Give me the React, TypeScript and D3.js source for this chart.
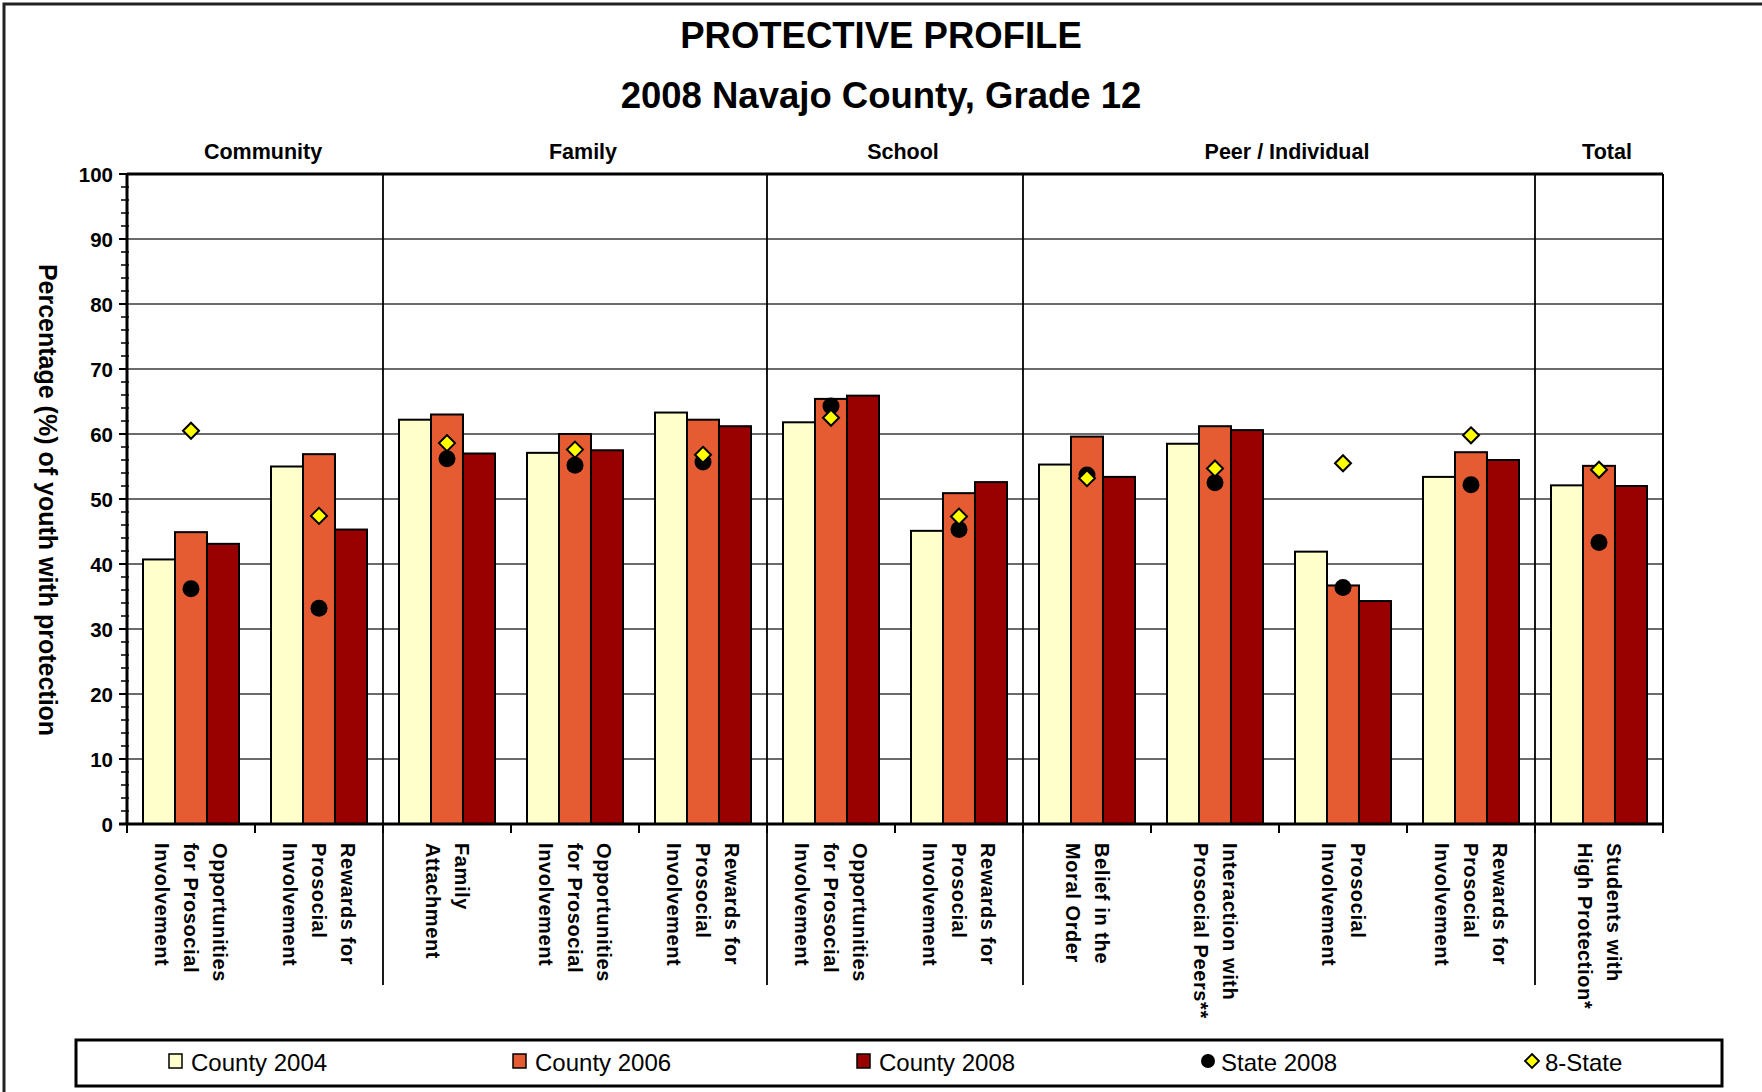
import React from "react";
import * as d3 from "d3";

const categoryLines: string[][] = [
  ["Opportunities", "for Prosocial", "Involvement"],
  ["Rewards for", "Prosocial", "Involvement"],
  ["Family", "Attachment"],
  ["Opportunities", "for Prosocial", "Involvement"],
  ["Rewards for", "Prosocial", "Involvement"],
  ["Opportunities", "for Prosocial", "Involvement"],
  ["Rewards for", "Prosocial", "Involvement"],
  ["Belief in the", "Moral Order"],
  ["Interaction with", "Prosocial Peers**"],
  ["Prosocial", "Involvement"],
  ["Rewards for", "Prosocial", "Involvement"],
  ["Students with", "High Protection*"],
];

const groupNames = ["Community", "Family", "School", "Peer / Individual", "Total"];
const groupSizes = [2, 3, 2, 4, 1];

const county2004 = [40.7, 55.0, 62.2, 57.1, 63.3, 61.8, 45.1, 55.3, 58.5, 41.9, 53.4, 52.1];
const county2006 = [44.9, 56.9, 63.0, 60.0, 62.2, 65.4, 50.9, 59.6, 61.2, 36.7, 57.2, 55.1];
const county2008 = [43.1, 45.3, 57.0, 57.5, 61.2, 65.9, 52.6, 53.4, 60.6, 34.3, 56.0, 52.0];
const state2008 = [36.2, 33.2, 56.2, 55.2, 55.7, 64.3, 45.3, 53.7, 52.5, 36.4, 52.2, 43.3];
const eightState = [60.5, 47.4, 58.6, 57.6, 56.8, 62.5, 47.3, 53.2, 54.7, 55.5, 59.8, 54.5];

const barSeries = ["County 2004", "County 2006", "County 2008"];
const barColors = ["#FFFFCC", "#E55B32", "#990000"];
const yTicks = [0, 10, 20, 30, 40, 50, 60, 70, 80, 90, 100];

const W = 1762;
const H = 1092;
const plotL = 127;
const plotR = 1663;
const plotT = 174;
const plotB = 824;
const FONT = "'Liberation Sans', Arial, Helvetica, sans-serif";

export default function App() {
  const idx = categoryLines.map((_, i) => i);
  const x0 = d3.scaleBand<number>().domain(idx).range([plotL, plotR]).paddingInner(0).paddingOuter(0);
  const x1 = d3
    .scaleBand<number>()
    .domain([0, 1, 2])
    .range([0, x0.bandwidth()])
    .paddingInner(0)
    .paddingOuter(0.5);
  const y = d3.scaleLinear().domain([0, 100]).range([plotB, plotT]);
  const barData = [county2004, county2006, county2008];
  const minorTicks = d3.range(0, 101, 2).filter((v) => v % 10 !== 0);

  const cum: number[] = [];
  let acc = 0;
  groupSizes.forEach((s) => {
    cum.push(acc);
    acc += s;
  });
  const step = x0.step();
  const cx = (i: number) => (x0(i) as number) + x0.bandwidth() / 2;
  const diamond = (r: number) => `M0,${-r}L${r},0L0,${r}L${-r},0Z`;

  const legendItems = [
    { label: barSeries[0], type: "sq", color: barColors[0], x: 169 },
    { label: barSeries[1], type: "sq", color: barColors[1], x: 513 },
    { label: barSeries[2], type: "sq", color: barColors[2], x: 857 },
    { label: "State 2008", type: "circle", color: "#000", x: 1201 },
    { label: "8-State", type: "diamond", color: "#FFFF00", x: 1525 },
  ];

  return (
    <svg
      width={W}
      height={H}
      style={{ position: "absolute", left: 0, top: 0, background: "#fff" }}
      fontFamily={FONT}
    >
      <rect x={0} y={0} width={W} height={H} fill="#fff" />
      <rect x={4} y={4} width={W + 50} height={H + 50} fill="none" stroke="#222" strokeWidth={3} />

      <text x={W / 2} y={48} textAnchor="middle" fontSize={36.5} fontWeight="bold">
        PROTECTIVE PROFILE
      </text>
      <text x={W / 2} y={108} textAnchor="middle" fontSize={36.5} fontWeight="bold">
        2008 Navajo County, Grade 12
      </text>

      {groupNames.map((g, gi) => {
        const start = plotL + cum[gi] * step;
        const end = start + groupSizes[gi] * step;
        return (
          <text key={g} x={(start + end) / 2 + 8} y={159} textAnchor="middle" fontSize={21.5} fontWeight="bold">
            {g}
          </text>
        );
      })}

      {yTicks
        .filter((t) => t > 0 && t < 100)
        .map((t) => (
          <line key={t} x1={plotL} x2={plotR} y1={y(t)} y2={y(t)} stroke="#3a3a3a" strokeWidth={1.3} />
        ))}

      {cum.slice(1).map((c) => {
        const xx = plotL + c * step;
        return <line key={c} x1={xx} x2={xx} y1={plotT} y2={985} stroke="#000" strokeWidth={1.8} />;
      })}

      {barData.map((series, si) =>
        series.map((v, i) => (
          <rect
            key={`${si}-${i}`}
            x={(x0(i) as number) + (x1(si) as number)}
            y={y(v)}
            width={x1.bandwidth()}
            height={plotB - y(v)}
            fill={barColors[si]}
            stroke="#000"
            strokeWidth={2}
          />
        ))
      )}

      {state2008.map((v, i) => (
        <circle key={`s${i}`} cx={cx(i)} cy={y(v)} r={8.5} fill="#000" />
      ))}
      {eightState.map((v, i) => (
        <path
          key={`d${i}`}
          d={diamond(8)}
          transform={`translate(${cx(i)},${y(v)})`}
          fill="#FFFF00"
          stroke="#000"
          strokeWidth={2}
        />
      ))}

      <line x1={plotL} x2={plotR} y1={plotT} y2={plotT} stroke="#000" strokeWidth={3} />
      <line x1={plotR} x2={plotR} y1={plotT} y2={plotB} stroke="#000" strokeWidth={2} />
      <line x1={plotL} x2={plotL} y1={plotT} y2={plotB} stroke="#000" strokeWidth={3} />
      <line x1={plotL - 8} x2={plotR} y1={plotB} y2={plotB} stroke="#000" strokeWidth={3} />

      {yTicks.map((t) => (
        <g key={`yt${t}`}>
          <line x1={plotL - 8} x2={plotL} y1={y(t)} y2={y(t)} stroke="#000" strokeWidth={2} />
          <text
            x={plotL - 14}
            y={y(t)}
            textAnchor="end"
            dominantBaseline="central"
            fontSize={20.5}
            fontWeight="bold"
          >
            {t}
          </text>
        </g>
      ))}
      {minorTicks.map((t) => (
        <line key={`mt${t}`} x1={plotL - 6} x2={plotL + 2} y1={y(t)} y2={y(t)} stroke="#000" strokeWidth={1.5} />
      ))}

      {d3.range(0, categoryLines.length + 1).map((k) => {
        const xx = plotL + k * step;
        return <line key={`xt${k}`} x1={xx} x2={xx} y1={plotB} y2={plotB + 9} stroke="#000" strokeWidth={2} />;
      })}

      {categoryLines.map((lines, i) => {
        const lh = 29;
        const n = lines.length;
        return (
          <text
            key={`xl${i}`}
            transform={`translate(${cx(i)},843) rotate(90)`}
            fontSize={20}
            fontWeight="bold"
            letterSpacing={0.6}
            dominantBaseline="central"
          >
            {lines.map((ln, li) => (
              <tspan key={li} x={0} y={(li - (n - 1) / 2) * lh}>
                {ln}
              </tspan>
            ))}
          </text>
        );
      })}

      <text
        transform={`translate(48,500) rotate(90)`}
        textAnchor="middle"
        dominantBaseline="central"
        fontSize={25}
        fontWeight="bold"
      >
        Percentage (%) of youth with protection
      </text>

      <rect x={76} y={1040} width={1646} height={46} fill="#fff" stroke="#000" strokeWidth={3} />
      {legendItems.map((it) => (
        <g key={it.label}>
          {it.type === "sq" && (
            <rect x={it.x} y={1054} width={13} height={14} fill={it.color} stroke="#000" strokeWidth={1.5} />
          )}
          {it.type === "circle" && <circle cx={it.x + 7} cy={1061} r={7} fill="#000" />}
          {it.type === "diamond" && (
            <path d={diamond(7)} transform={`translate(${it.x + 7},1061)`} fill={it.color} stroke="#000" strokeWidth={1.8} />
          )}
          <text x={it.x + (it.type === "sq" ? 22 : 20)} y={1062} dominantBaseline="central" fontSize={24}>
            {it.label}
          </text>
        </g>
      ))}
    </svg>
  );
}
